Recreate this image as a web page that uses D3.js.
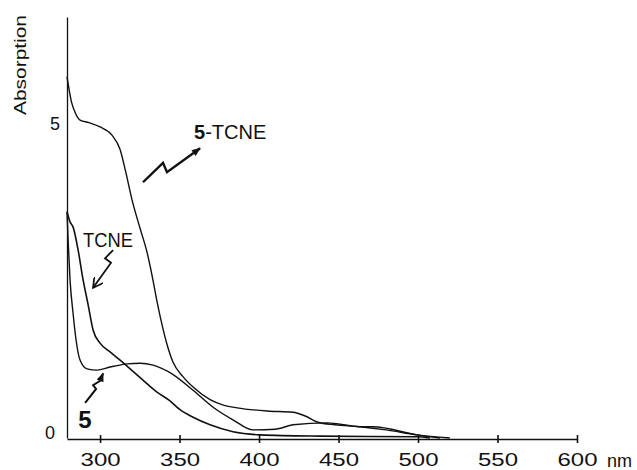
<!DOCTYPE html>
<html>
<head>
<meta charset="utf-8">
<script src="https://cdn.jsdelivr.net/npm/d3@7"></script>
<style>
body { margin: 0; background: #fff; }
text { font-family: "Liberation Sans", Arial, sans-serif; fill: #111; }
</style>
</head>
<body>
<svg width="637" height="470"></svg>
<script>
// wavelengths (nm) and absorption
var nmComplex  = [279.2, 282, 284.3, 287.4, 293, 300, 307.5, 312.6, 316, 320.1, 325, 329.6, 333, 336, 339, 342, 346, 352, 358.5, 369.2, 378, 386.2, 405, 421.4, 429, 437, 447.8, 463.5, 480, 499.4, 520];
var absComplex = [5.75, 5.35, 5.18, 5.06, 5.02, 4.95, 4.82, 4.59, 4.25, 3.79, 3.35, 2.95, 2.55, 2.15, 1.8, 1.5, 1.2, 0.98, 0.81, 0.61, 0.52, 0.48, 0.43, 0.41, 0.35, 0.25, 0.21, 0.18, 0.13, 0.05, 0];

var nmTCNE  = [279.2, 281.1, 283, 286.2, 289.3, 292.5, 295.6, 300, 306.3, 312.6, 318.9, 327, 335.8, 344, 350.3, 358.5, 369.2, 383.6, 400.6, 438.4, 499.4, 507.5];
var absTCNE = [3.6, 3.44, 3.36, 2.99, 2.52, 2.12, 1.72, 1.51, 1.37, 1.24, 1.1, 0.92, 0.73, 0.59, 0.45, 0.33, 0.21, 0.1, 0.05, 0.03, 0.02, 0];

var nm5  = [279.2, 279.9, 281.1, 283, 284.9, 287.4, 291.8, 298.1, 306.3, 317, 325.2, 333.3, 344, 358.5, 371.1, 383.6, 396.2, 410.1, 421.4, 442.8, 463.5, 471.7, 499.4, 513.8];
var abs5 = [3.6, 3.15, 2.52, 1.99, 1.56, 1.24, 1.1, 1.08, 1.13, 1.18, 1.19, 1.16, 1.04, 0.76, 0.49, 0.29, 0.13, 0.14, 0.21, 0.24, 0.18, 0.18, 0.05, 0];

var xTicks = [300, 350, 400, 450, 500, 550, 600];
var yTicks = [0, 5];

// annotation arrows, in data units
var arrowComplex = [[327, 4.07], [339.6, 4.38], [342.1, 4.23], [362.9, 4.61]];
var arrowTCNE = [[308.2, 2.99], [303.1, 2.86], [306.9, 2.79], [295.6, 2.39]];
var arrow5 = [[290.6, 0.56], [297.5, 0.78], [295.6, 0.84], [300, 0.91], [301.9, 1.03]];

var svg = d3.select('svg');

var scaleX = d3.scaleLinear().domain([279.2, 600]).range([67, 577]);
var scaleY = d3.scaleLinear().domain([0, 6.7]).range([438, 17]);

var defs = svg.append('defs');
defs.append('marker')
    .attr('id', 'headFill')
    .attr('viewBox', '0 0 10 10')
    .attr('refX', 9).attr('refY', 5)
    .attr('markerWidth', 11).attr('markerHeight', 9)
    .attr('markerUnits', 'userSpaceOnUse')
    .attr('orient', 'auto')
    .append('path')
    .attr('d', 'M0,1L10,5L0,9z')
    .attr('fill', '#111');
defs.append('marker')
    .attr('id', 'headOpen')
    .attr('viewBox', '0 0 10 10')
    .attr('refX', 9).attr('refY', 5)
    .attr('markerWidth', 11).attr('markerHeight', 11)
    .attr('markerUnits', 'userSpaceOnUse')
    .attr('orient', 'auto')
    .append('path')
    .attr('d', 'M0,0L9,5L0,10')
    .attr('fill', 'none')
    .attr('stroke', '#111')
    .attr('stroke-width', 1.6);

// x axis
var xAxis = svg.append('g')
    .attr('transform', 'translate(0,439)')
    .call(d3.axisBottom(scaleX).tickValues(xTicks).tickSize(0).tickSizeOuter(0).tickPadding(14));
xAxis.select('.domain').attr('stroke', '#111').attr('stroke-width', 1.6);
xAxis.selectAll('.tick line').attr('y1', -4).attr('y2', 4).attr('stroke', '#111').attr('stroke-width', 1.6);
xAxis.selectAll('.tick text')
    .style('font-size', '18px')
    .attr('textLength', 40)
    .attr('lengthAdjust', 'spacingAndGlyphs');

svg.append('text')
    .text('nm')
    .attr('x', 607).attr('y', 467)
    .style('font-size', '18px');

// y axis
var yAxis = svg.append('g')
    .attr('transform', 'translate(67,0)')
    .call(d3.axisLeft(scaleY).tickValues(yTicks).tickFormat(d3.format('d')).tickSize(0).tickSizeOuter(0).tickPadding(9));
yAxis.select('.domain').attr('stroke', '#111').attr('stroke-width', 1.3);
yAxis.selectAll('.tick text')
    .style('font-size', '18px')
    .attr('dy', function(d){ return d == 0 ? '0.05em' : '0.32em'; })
    .attr('x', function(d){ return d == 0 ? -12 : -7; });

svg.append('text')
    .text('Absorption')
    .attr('text-anchor', 'middle')
    .attr('transform', 'translate(26,65)rotate(-90)')
    .attr('textLength', 100)
    .attr('lengthAdjust', 'spacingAndGlyphs')
    .style('font-size', '17px');

// curves
var line = d3.line()
    .x(function(d){ return scaleX(d[0]); })
    .y(function(d){ return scaleY(d[1]); })
    .curve(d3.curveMonotoneX);

function drawCurve(nm, ab, width){
    svg.append('path')
        .datum(d3.zip(nm, ab))
        .attr('d', line)
        .attr('fill', 'none')
        .attr('stroke', '#111')
        .attr('stroke-width', width);
}

drawCurve(nmComplex, absComplex, 1.4);
drawCurve(nmTCNE, absTCNE, 1.6);
drawCurve(nm5, abs5, 1.4);

// arrows
var arrowLine = d3.line()
    .x(function(d){ return scaleX(d[0]); })
    .y(function(d){ return scaleY(d[1]); });

svg.append('path')
    .attr('d', arrowLine(arrowComplex))
    .attr('fill', 'none')
    .attr('stroke', '#111')
    .attr('stroke-width', 2.4)
    .attr('marker-end', 'url(#headFill)');

svg.append('path')
    .attr('d', arrowLine(arrowTCNE))
    .attr('fill', 'none')
    .attr('stroke', '#111')
    .attr('stroke-width', 1.8)
    .attr('marker-end', 'url(#headOpen)');

svg.append('path')
    .attr('d', arrowLine(arrow5))
    .attr('fill', 'none')
    .attr('stroke', '#111')
    .attr('stroke-width', 2)
    .attr('marker-end', 'url(#headFill)');

// labels
var lab = svg.append('text')
    .attr('x', scaleX(359.1)).attr('y', scaleY(4.76))
    .style('font-size', '20px');
lab.append('tspan').text('5').style('font-weight', 'bold');
lab.append('tspan').text('-TCNE');

svg.append('text')
    .text('TCNE')
    .attr('x', scaleX(289.3)).attr('y', scaleY(3.04))
    .attr('textLength', 50)
    .attr('lengthAdjust', 'spacingAndGlyphs')
    .style('font-size', '20px');

svg.append('text')
    .text('5')
    .attr('x', scaleX(286.2)).attr('y', scaleY(0.16))
    .style('font-size', '24px')
    .style('font-weight', 'bold');
</script>
</body>
</html>
